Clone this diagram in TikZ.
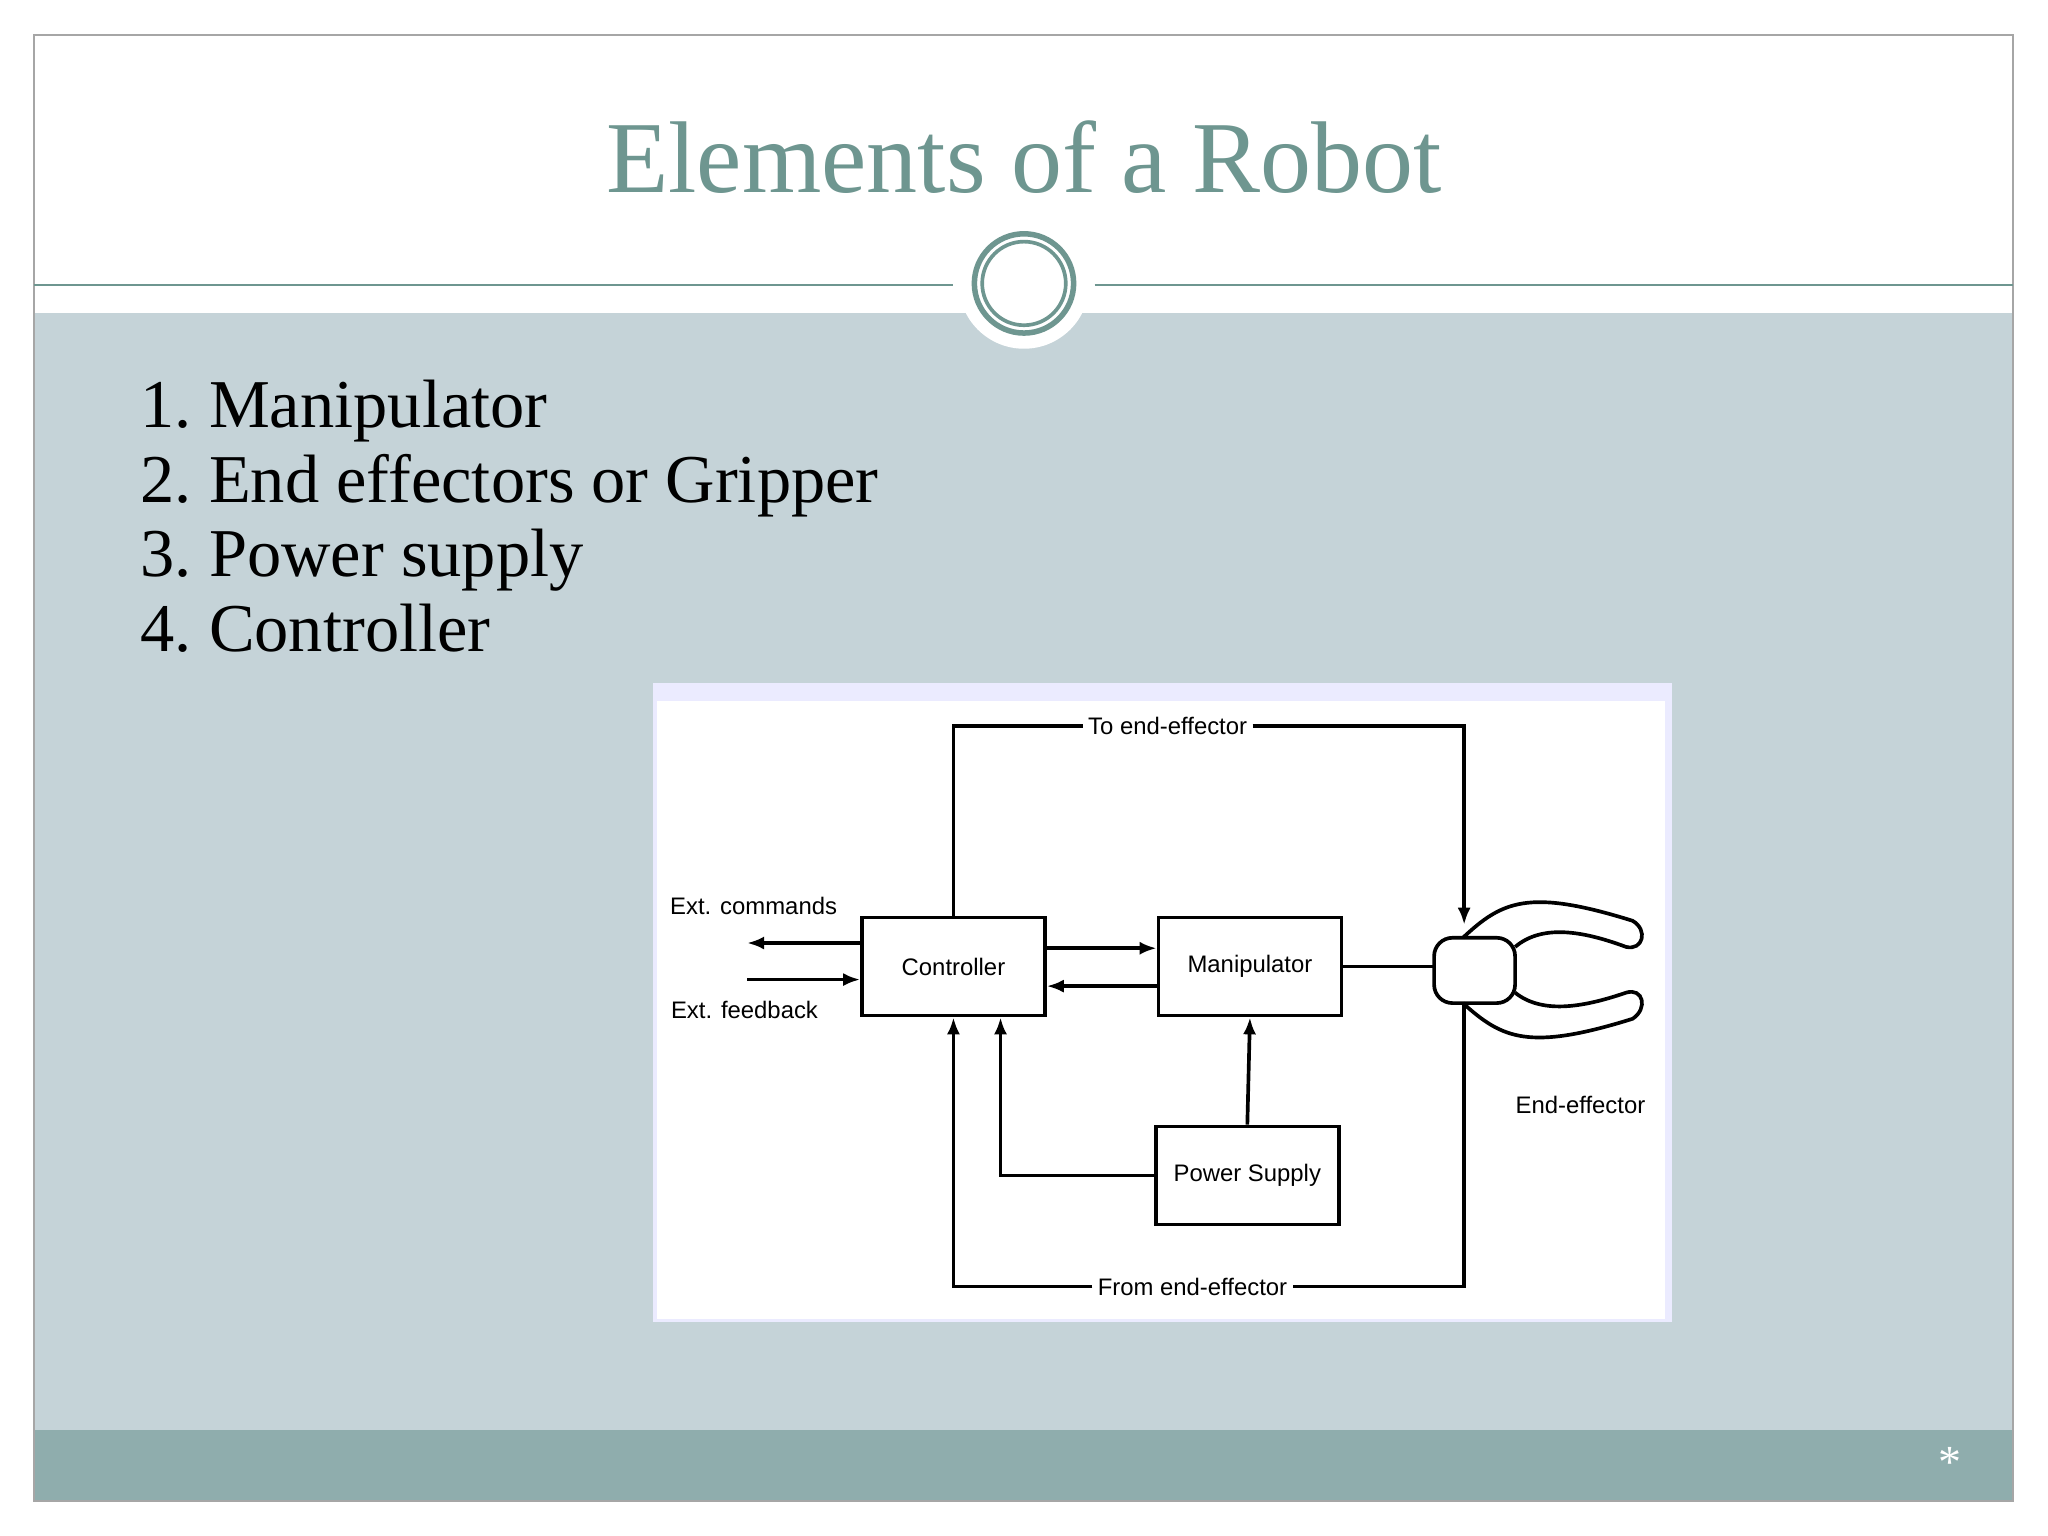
\documentclass[tikz,border=0pt]{standalone}
\usepackage{fontspec}
\setmainfont{Liberation Serif}
\newfontfamily\diagfont{Liberation Sans}
\usetikzlibrary{arrows.meta,positioning}
\definecolor{teal}{HTML}{6E9690}
\definecolor{band}{HTML}{C5D3D8}
\definecolor{foot}{HTML}{8FADAD}
\tikzset{
  blk/.style={draw, thick, minimum width=1.4cm, minimum height=0.75cm, inner sep=1pt, font=\diagfont\fontsize{5.2}{6}\selectfont},
  lbl/.style={font=\diagfont\fontsize{5.2}{6}\selectfont, inner sep=1pt},
  sig/.style={thick, -{Latex[length=1.3mm,width=1mm]}},
}
\begin{document}
\begin{tikzpicture}[x=0.01cm,y=-0.01cm]
\useasboundingbox (0,0) rectangle (1568,1176);
\fill[white] (0,0) rectangle (1568,1176);
% slide background
\fill[band] (26,240) rectangle (1541,1095);
\fill[foot] (26,1095) rectangle (1541,1149);
\draw[gray!70] (26,27) rectangle (1541,1149);
\draw[teal] (26,218) -- (730,218);
\draw[teal] (838,218) -- (1541,218);
\fill[white] (784,217) circle (50);
\draw[teal, line width=1.2pt] (784,217) circle (38);
\draw[teal, line width=0.8pt] (784,217) circle (32);
\node[text=teal, font=\fontsize{22.2}{26}\selectfont] (title) at (784,120) {Elements of a Robot};
\node[text=white] (star) at (1493,1120) {*};
% list
\node[anchor=north west, font=\fontsize{14.9}{16.3}\selectfont, align=left, inner sep=0pt] (list) at (107,290)
  {1.~Manipulator\\2.~End effectors or Gripper\\3.~Power supply\\4.~Controller};
% diagram panel
\fill[blue!8!white] (500,523) rectangle (1280,1012);
\fill[white] (503,537) rectangle (1275,1010);
\node[blk] (ctrl) at (730,740) {Controller};
\node[blk] (manip) at (957,740) {Manipulator};
\node[blk] (power) at (955,900) {Power Supply};
\node[lbl] (toend) at (894,556) {To end-effector};
\node[lbl] (fromend) at (913,985) {From end-effector};
\node[lbl] (extc) at (577,694) {Ext. commands};
\node[lbl] (extf) at (570,773) {Ext. feedback};
\node[lbl] (effl) at (1210,846) {End-effector};
\coordinate (extcend) at (572,722);
\coordinate (extfstart) at (572,750);
\coordinate (grip) at (1098,740);
\coordinate (gripin) at (1121,708);
\coordinate (gripout) at (1121,768);
% connectors
\draw[sig] (ctrl.west |- extcend) -- (extcend);
\draw[sig] (extfstart) -- (ctrl.west |- extfstart);
\draw[sig] (ctrl.east |- 0,726) -- (manip.west |- 0,726);
\draw[sig] (manip.west |- 0,755) -- (ctrl.east |- 0,755);
\draw[sig] (power.north) -- (manip.south);
\draw[sig] (power.west) -| ([xshift=0.36cm]ctrl.south);
\draw[thick] (ctrl.north) |- (toend.west);
\draw[sig] (toend.east) -| (gripin);
\draw[thick] (manip.east) -- (grip);
\draw[thick] (gripout) |- (fromend.east);
\draw[sig] (fromend.west) -| (ctrl.south);
% gripper
\draw[thick, rounded corners=4pt, fill=white] (1098,718) rectangle (1160,768);
\draw[thick] (1120,718) .. controls (1150,690) and (1170,680) .. (1250,705)
  .. controls (1262,712) and (1258,728) .. (1245,725)
  .. controls (1210,712) and (1180,708) .. (1160,725);
\draw[thick] (1120,768) .. controls (1150,795) and (1170,805) .. (1250,780)
  .. controls (1262,772) and (1258,756) .. (1245,760)
  .. controls (1210,772) and (1180,776) .. (1160,760);
\end{tikzpicture}
\end{document}
